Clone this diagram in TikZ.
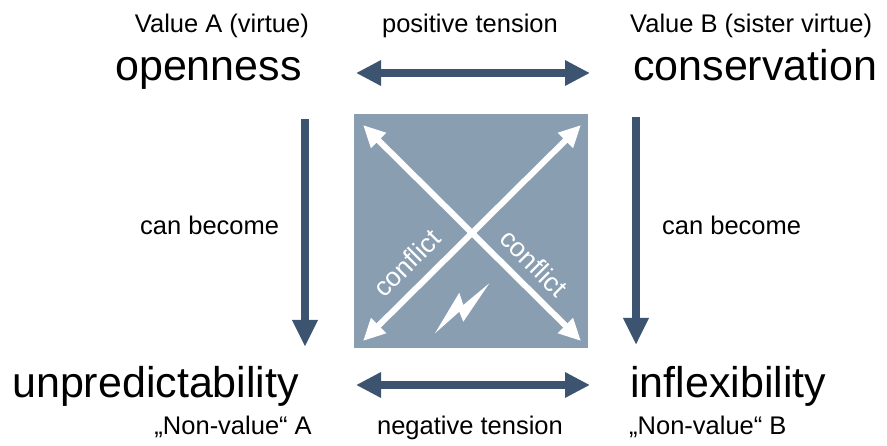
\documentclass[tikz,border=0pt]{standalone}
\usepackage{fontspec}
\setmainfont{Liberation Sans}
\usetikzlibrary{arrows.meta}
\definecolor{darkarrow}{HTML}{3D5470}
\definecolor{boxfill}{HTML}{8A9EB2}
\begin{document}
\begin{tikzpicture}[x=1pt,y=-1pt,
  small/.style={font=\fontsize{25.5}{30}\selectfont, inner sep=0pt},
  big/.style={font=\fontsize{43}{50}\selectfont, inner sep=0pt},
  darrow/.style={draw=darkarrow, line width=8pt, -{Triangle[length=27pt,width=24pt]}},
  ddarrow/.style={draw=darkarrow, line width=8pt, {Triangle[length=25pt,width=24pt]}-{Triangle[length=25pt,width=24pt]}},
  warrow/.style={draw=white, line width=6pt, {Triangle[length=22pt,width=20pt]}-{Triangle[length=22pt,width=20pt]}},
  ctext/.style={font=\fontsize{26.5}{30}\selectfont, text=white, inner sep=0pt}]
\path[use as bounding box] (0,0) rectangle (887,446);

% central square
\node[fill=boxfill, minimum size=234pt, inner sep=0pt] (sq) at (471,231) {};

% texts
\node[small, anchor=base east] (va) at (309,33) {Value A (virtue)};
\node[small, anchor=base] (pt) at (470,33) {positive tension};
\node[small, anchor=base west] (vb) at (630,33) {Value B (sister virtue)};
\node[big, anchor=base west] (op) at (115,81) {openness};
\node[big, anchor=base west] (co) at (633,81) {conservation};
\node[big, anchor=base west] (un) at (12,398) {unpredictability};
\node[big, anchor=base west] (in) at (630,398) {inflexibility};
\node[small, anchor=base east] (na) at (312,435) {„Non-value“ A};
\node[small, anchor=base] (nt) at (470,435) {negative tension};
\node[small, anchor=base west] (nb) at (629,435) {„Non-value“ B};
\node[small, anchor=base west] (cbl) at (140,235) {can become};
\node[small, anchor=base west] (cbr) at (662,235) {can become};

% arrow end points
\coordinate (tl) at (356,73);
\coordinate (tr) at (590,73);
\coordinate (bl) at (356,385);
\coordinate (br) at (590,385);
\coordinate (l1) at (305,119);
\coordinate (l2) at (305,347);
\coordinate (r1) at (636,117);
\coordinate (r2) at (636,345);
\coordinate (d1) at (363,125);
\coordinate (d2) at (581,341);
\coordinate (d3) at (581,125);
\coordinate (d4) at (363,341);

\draw[ddarrow] (tl) -- (tr);
\draw[ddarrow] (bl) -- (br);
\draw[darrow] (l1) -- (l2);
\draw[darrow] (r1) -- (r2);
\draw[warrow] (d1) -- (d2);
\draw[warrow] (d3) -- (d4);

% conflict labels
\node[ctext, rotate=45] (c1) at (407,263) {conflict};
\node[ctext, rotate=-45] (c2) at (534,263) {conflict};

% lightning
\fill[white] (459.3,292.7) -- (463.3,305) -- (489.3,283.3) -- (463.3,321.7) -- (459.3,311.7) -- (435,333.3) -- cycle;
\end{tikzpicture}
\end{document}
